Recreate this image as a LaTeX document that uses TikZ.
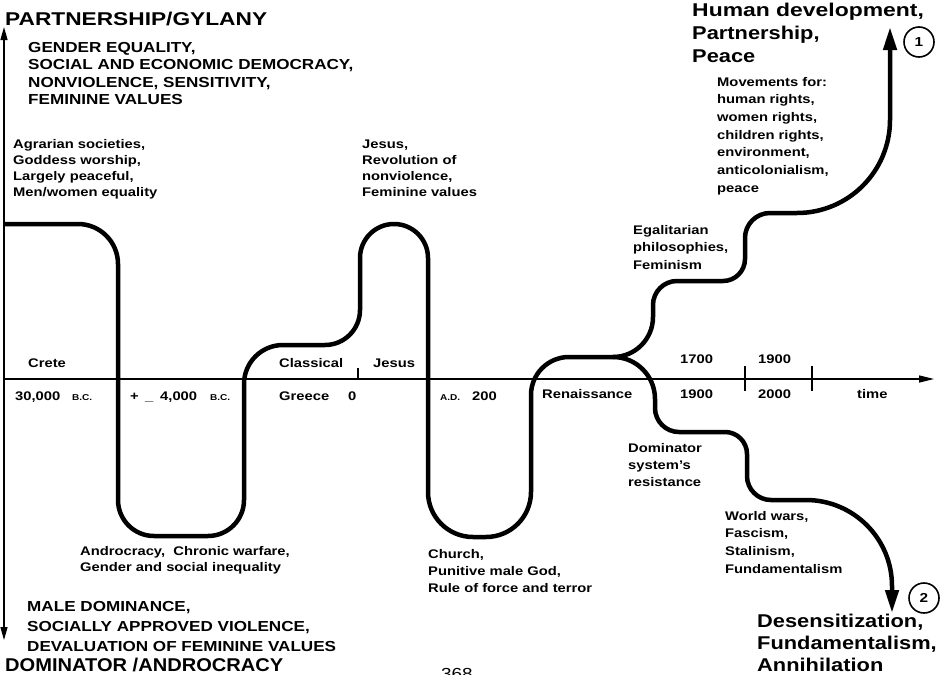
\documentclass[tikz,border=0pt]{standalone}
\usepackage{fontspec}
\setmainfont{Liberation Sans}[FakeStretch=1.18]
\usetikzlibrary{arrows.meta}
\newcommand\tblock[6]{\foreach \ln [count=\k] in {#6} {\node[#2] (#1\k) at (#3,{#4+(\k-1)*#5}) {\ln};}}
\begin{document}
\begin{tikzpicture}[x=1pt,y=-1pt,
  curve/.style={line width=4.5pt,line join=round},
  axis/.style={line width=1.3pt},
  lab/.style={anchor=base west,inner sep=0pt,font=\bfseries\fontsize{12.5}{15}\selectfont},
  capsm/.style={anchor=base west,inner sep=0pt,font=\bfseries\fontsize{14.5}{17}\selectfont},
  head/.style={anchor=base west,inner sep=0pt,font=\bfseries\fontsize{18.5}{22}\selectfont},
  era/.style={anchor=base west,inner sep=0pt,font=\bfseries\fontsize{8.5}{9}\selectfont},
  num/.style={circle,draw,line width=1.6pt,minimum size=30pt,inner sep=0pt,font=\bfseries\fontsize{13}{13}\selectfont},
  bigtip/.style={-{Triangle[length=23pt,width=13pt]}}
]
\fill[white] (0,0) rectangle (943,675);
\useasboundingbox (0,0) rectangle (943,675);

% axes
\coordinate (vtop) at (4,27);
\coordinate (vbot) at (4,640);
\coordinate (horg) at (4,379);
\coordinate (hend) at (934,379);
\draw[axis,{Triangle[length=13pt,width=7pt]}-{Triangle[length=13pt,width=7pt]}] (vbot) -- (vtop);
\draw[axis,-{Triangle[length=15pt,width=7pt]}] (horg) -- (hend);
\coordinate (t0a) at (358,368); \coordinate (t0b) at (358,379);
\coordinate (t1a) at (745,366); \coordinate (t1b) at (745,391);
\coordinate (t2a) at (812,366); \coordinate (t2b) at (812,391);
\draw[axis] (t0a) -- (t0b);
\draw[axis] (t1a) -- (t1b);
\draw[axis] (t2a) -- (t2b);

% main curve (radius given before the segment that ends at the corner)
\draw[curve] (4,224) [rounded corners=40pt] -- (118,224) [rounded corners=36pt] -- (118,536)
  -- (244,536) [rounded corners=39pt] -- (244,345) [rounded corners=35pt]
  -- (360,345) [rounded corners=34pt] -- (360,224)
  -- (428,224) [rounded corners=45pt] -- (428,537)
  -- (531,537) [rounded corners=38pt] -- (531,357) -- (613,357);
% upper branch
\draw[curve,bigtip] (613,357) [rounded corners=40pt] -- (653,357) [rounded corners=24pt] -- (653,281)
  [rounded corners=22pt] -- (745,281) [rounded corners=25pt] -- (745,213)
  [rounded corners=93pt] -- (890,213) [sharp corners] -- (890,27);
% lower branch
\draw[curve,bigtip] (613,357) [rounded corners=42pt] -- (655,357) [rounded corners=24pt] -- (655,432)
  [rounded corners=22pt] -- (747,432) [rounded corners=24pt] -- (747,500)
  [rounded corners=86pt] -- (892,500) [sharp corners] -- (892,613);

\node[num] (c1) at (919,42) {1};
\node[num] (c2) at (924,598) {2};

% axis labels
\node[lab] (crete) at (28,367) {Crete};
\node[lab] (y30) at (15,400) {30,000};
\node[era] (bc30) at (72,400) {B.C.};
\node[lab] (pm) at (130,400) {+};
\node[lab] (us) at (145,400) {\_};
\node[lab] (y4) at (160,400) {4,000};
\node[era] (bc4) at (210,400) {B.C.};
\node[lab] (classical) at (279,367) {Classical};
\node[lab] (jesusax) at (373,367) {Jesus};
\node[lab] (greece) at (279,400) {Greece};
\node[lab] (zero) at (348,400) {0};
\node[era] (ad) at (440,400) {A.D.};
\node[lab] (y200) at (472,400) {200};
\node[lab] (ren) at (542,398) {Renaissance};
\node[lab] (y1700) at (680,363) {1700};
\node[lab] (y1900a) at (758,363) {1900};
\node[lab] (y1900b) at (680,398) {1900};
\node[lab] (y2000) at (758,398) {2000};
\node[lab] (time) at (857,398) {time};

% headings and blocks
\node[head] (part) at (5,25) {\scalebox{1.04}[1]{PARTNERSHIP/GYLANY}};
\tblock{pv}{capsm}{28}{52}{17.5}{{GENDER EQUALITY,},{SOCIAL AND ECONOMIC DEMOCRACY,},{NONVIOLENCE, SENSITIVITY,},{FEMININE VALUES}}
\tblock{agr}{lab}{13}{148}{16.3}{{Agrarian societies,},{Goddess worship,},{Largely peaceful,},{Men/women equality}}
\tblock{jes}{lab}{362}{148}{16.3}{{Jesus,},{Revolution of},{nonviolence,},{Feminine values}}
\tblock{hum}{head}{692}{16}{23}{{\scalebox{1.05}[1]{Human development,}},{Partnership,},{Peace}}
\tblock{mov}{lab}{717}{86}{17.7}{{Movements for:},{human rights,},{women rights,},{children rights,},{environment,},{anticolonialism,},{peace}}
\tblock{ega}{lab}{633}{234}{17.5}{{Egalitarian},{philosophies,},{Feminism}}
\tblock{dom}{lab}{628}{452}{17}{{Dominator},{system's},{resistance}}
\tblock{ww}{lab}{725}{520}{17.7}{{World wars,},{Fascism,},{Stalinism,},{Fundamentalism}}
\tblock{des}{head}{757}{627}{22}{{Desensitization,},{Fundamentalism,},{Annihilation}}
\tblock{and}{lab}{80}{555}{16}{{Androcracy,\ \ Chronic warfare,},{Gender and social inequality}}
\tblock{chu}{lab}{428}{558}{17}{{Church,},{Punitive male God,},{Rule of force and terror}}
\tblock{mv}{capsm}{27}{611}{20}{{MALE DOMINANCE,},{SOCIALLY APPROVED VIOLENCE,},{DEVALUATION OF FEMININE VALUES}}
\node[head] (domi) at (5,671) {\scalebox{0.92}[1]{DOMINATOR /ANDROCRACY}};
\node[anchor=base west,inner sep=0pt,font=\fontsize{16}{16}\selectfont] (page) at (441,679) {368};
\end{tikzpicture}
\end{document}
